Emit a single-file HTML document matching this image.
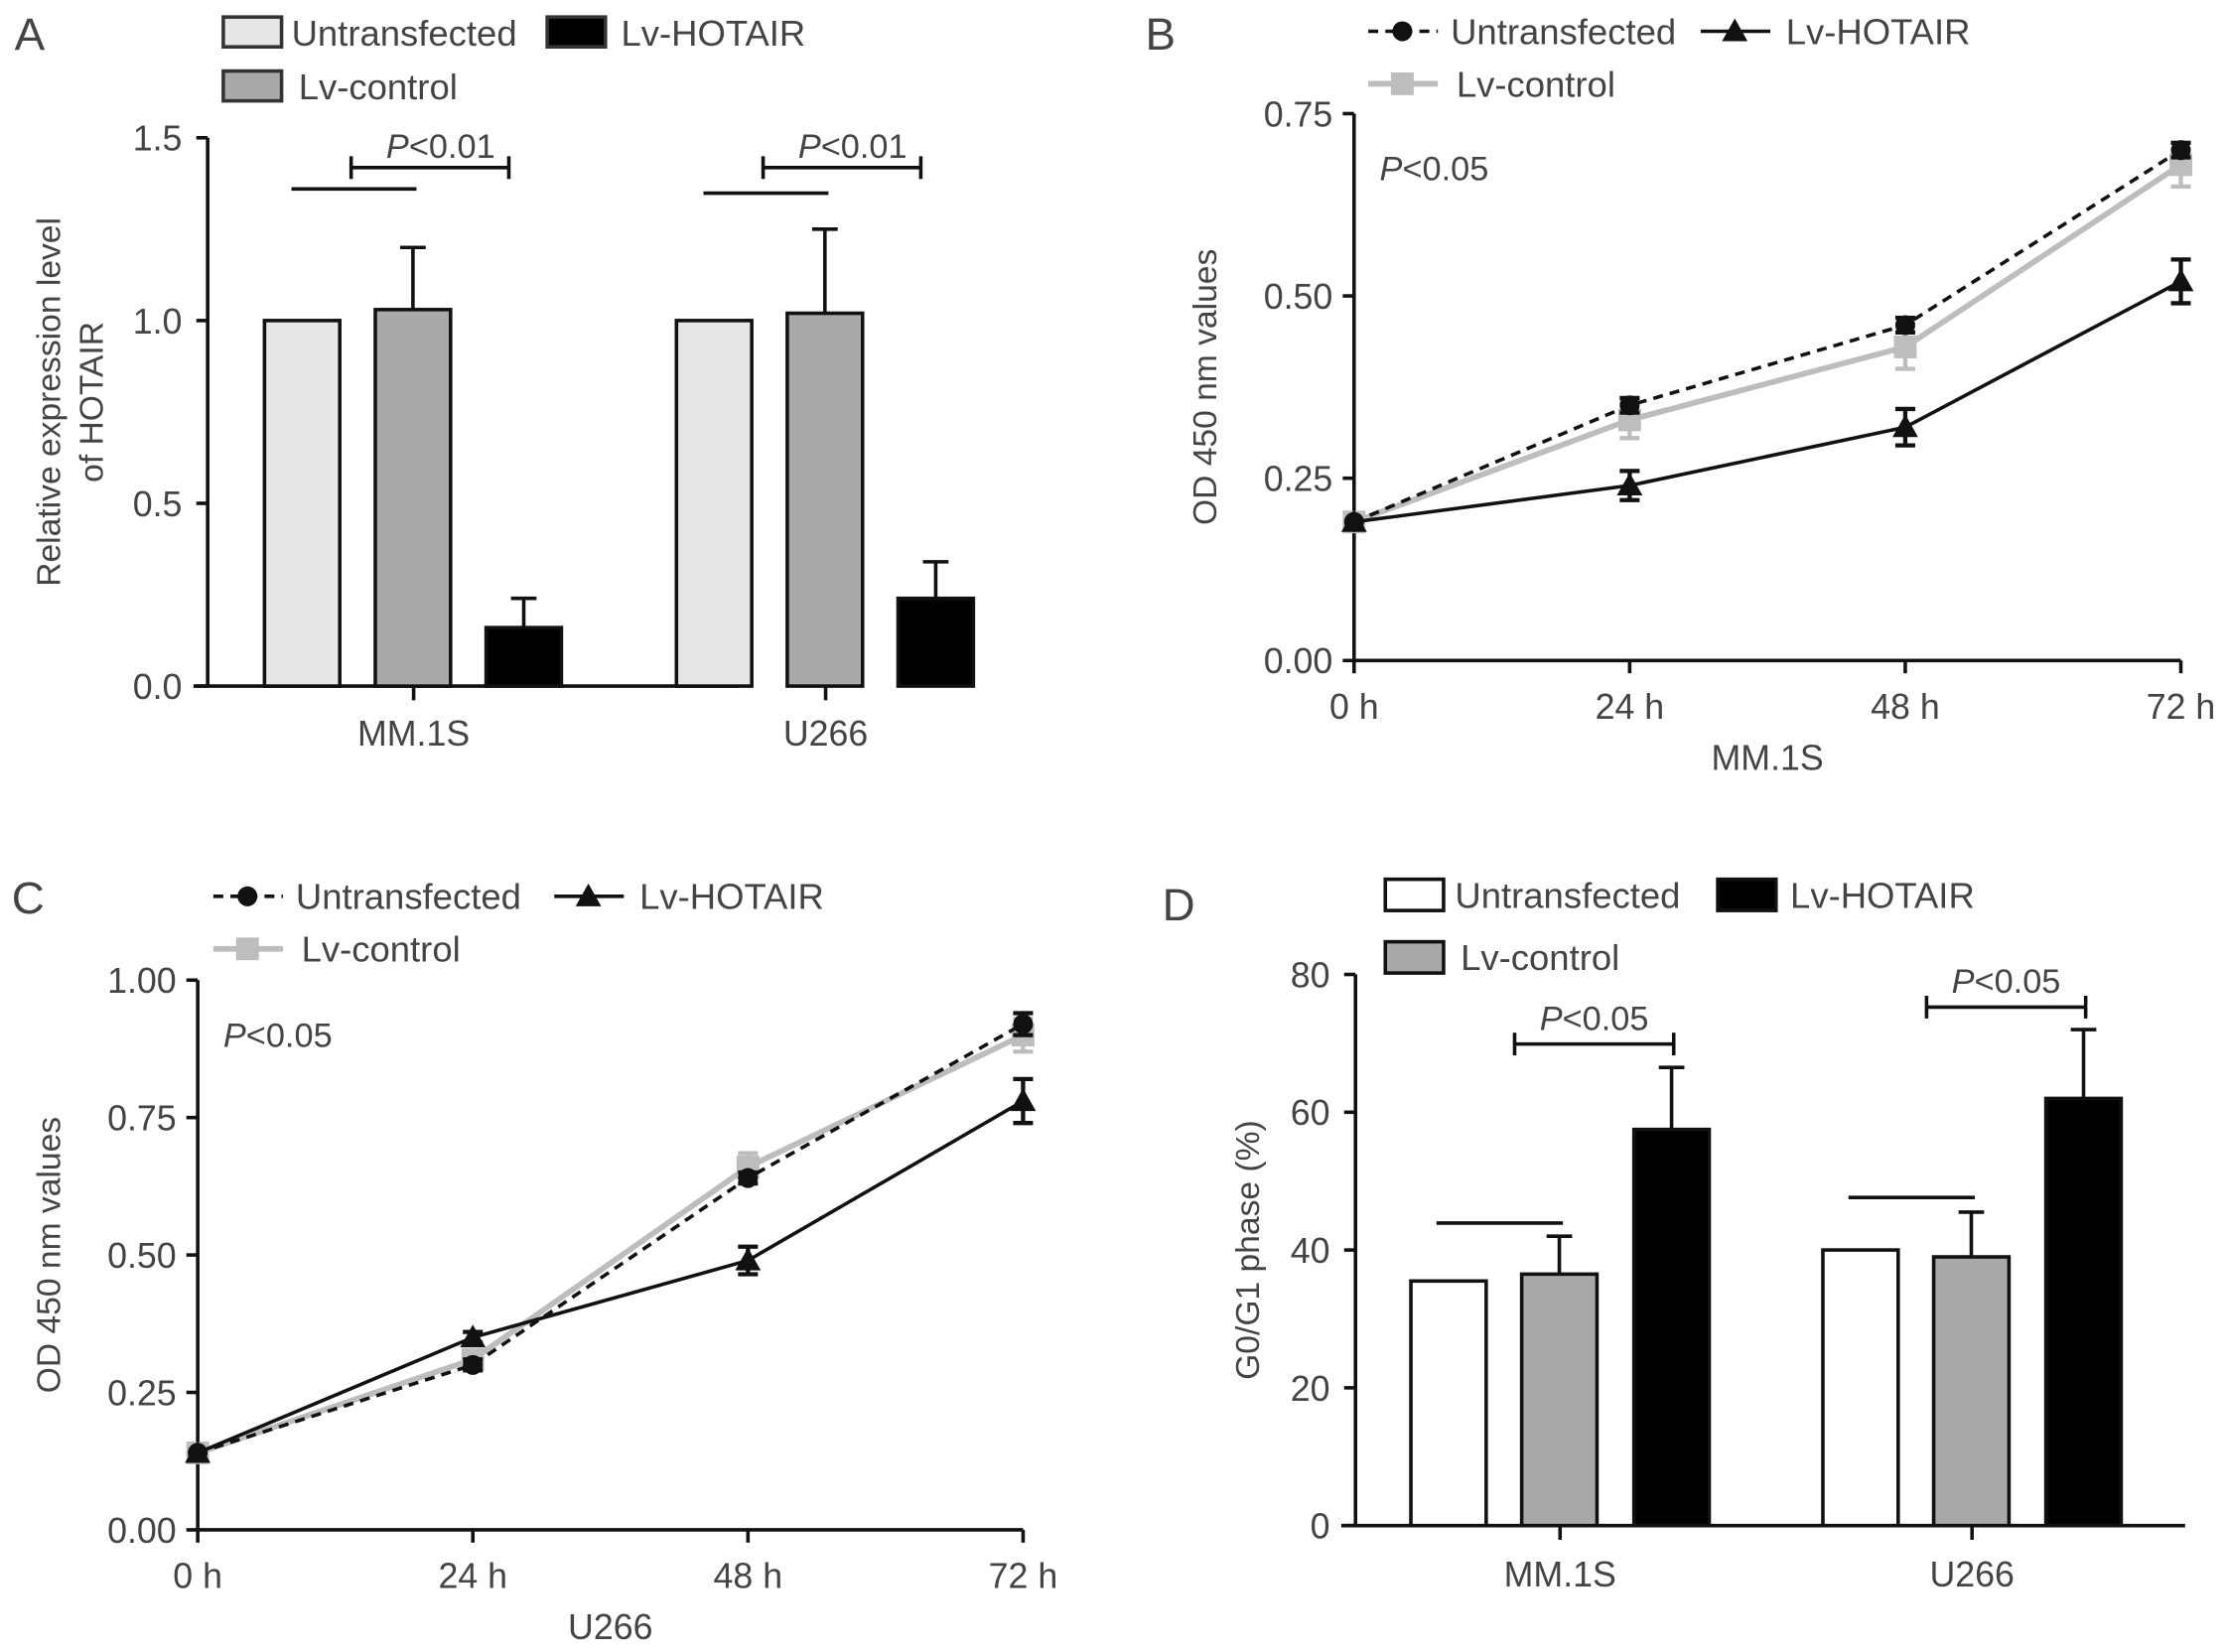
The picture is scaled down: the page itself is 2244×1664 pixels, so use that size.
<!DOCTYPE html>
<html><head><meta charset="utf-8"><style>
html,body{margin:0;padding:0;background:#fff}
svg{display:block}
text{font-family:"Liberation Sans",sans-serif;fill:#444}
</style></head><body>
<svg id="fig" width="2244" height="1664" viewBox="0 0 1568 1163" xmlns="http://www.w3.org/2000/svg"></svg>
<script>
// ---- Panel A data ----
const aGroups=["MM.1S","U266"];
const aUnt=[1.0,1.0];
const aCtrl=[1.03,1.02];
const aCtrlErr=[0.17,0.23];
const aHot=[0.16,0.24];
const aHotErr=[0.08,0.10];
const aTicks=[0,0.5,1.0,1.5];
// ---- Panel B data ----
const timeLabels=["0 h","24 h","48 h","72 h"];
const bUnt=[0.19,0.35,0.46,0.70];
const bUntErr=[0.01,0.01,0.01,0.01];
const bCtrl=[0.19,0.33,0.43,0.68];
const bCtrlErr=[0.02,0.025,0.03,0.03];
const bHot=[0.19,0.24,0.32,0.52];
const bHotErr=[0.02,0.02,0.025,0.03];
const bTicks=[0,0.25,0.5,0.75];
// ---- Panel C data ----
const cUnt=[0.14,0.30,0.64,0.92];
const cUntErr=[0.01,0.01,0.01,0.02];
const cCtrl=[0.14,0.31,0.66,0.90];
const cCtrlErr=[0.01,0.015,0.025,0.03];
const cHot=[0.14,0.35,0.49,0.78];
const cHotErr=[0.01,0.01,0.025,0.04];
const cTicks=[0,0.25,0.5,0.75,1.0];
// ---- Panel D data ----
const dGroups=["MM.1S","U266"];
const dUnt=[35.5,40];
const dCtrl=[36.5,39];
const dCtrlErr=[5.5,6.5];
const dHot=[57.5,62];
const dHotErr=[9,10];
const dTicks=[0,20,40,60,80];

const TICK=25, LEG=25.5, TITLE=23.5, PV=24, LET=32;
const svg=document.getElementById('fig');
const NS="http://www.w3.org/2000/svg";
function mk(tag,attrs,parent){const e=document.createElementNS(NS,tag);for(const k in attrs)e.setAttribute(k,attrs[k]);(parent||svg).appendChild(e);return e;}
function txt(x,y,s,size,anchor,parent,italicP){const t=mk('text',{x:x,y:y,'font-size':size,'text-anchor':anchor||'start'},parent);
 if(italicP){const a=document.createElementNS(NS,'tspan');a.setAttribute('font-style','italic');a.textContent='P';t.appendChild(a);t.appendChild(document.createTextNode(s));}
 else t.textContent=s;return t;}
function line(x1,y1,x2,y2,parent,extra){return mk('line',Object.assign({x1:x1,y1:y1,x2:x2,y2:y2,stroke:'#111','stroke-width':2.5},extra||{}),parent);}
function errBar(x,y1,y2,parent,color,w){line(x,y1,x,y2,parent,{stroke:color||'#111'});line(x-(w||9),y2,x+(w||9),y2,parent,{stroke:color||'#111'});}
function bracket(x1,x2,y,parent){line(x1,y,x2,y,parent);line(x1,y-8,x1,y+8,parent);line(x2,y-8,x2,y+8,parent);}

// ================= Panel A =================
(function(){
 const g=mk('g',{});
 
 
 const y0=483,y1=97,vmax=1.5;const Y=v=>y0-(v/vmax)*(y0-y1);
 const t=txt(10,35,"A",LET,'start',g);
 line(146,y1,146,y0,g);line(136,y0,520,y0,g);
 aTicks.forEach(v=>{line(138,Y(v),146,Y(v),g);const l=txt(128,Y(v)+9,v.toFixed(1),TICK,'end',g);});
 const yl=mk('text',{transform:'translate(42,283) rotate(-90)','font-size':TITLE,'text-anchor':'middle'},g);yl.textContent="Relative expression level";
 
 const yl2=mk('text',{transform:'translate(72,283) rotate(-90)','font-size':TITLE,'text-anchor':'middle'},g);yl2.textContent="of HOTAIR";
 
 const centers=[291,581];const bw=53;
 aGroups.forEach((name,i)=>{
  const c=centers[i];
  line(c,y0,c,y0+10,g);
  const l=txt(c,y0+42,name,TICK,'middle',g);
  const xs=[c-105,c-27,c+51];
  const vals=[aUnt[i],aCtrl[i],aHot[i]],fills=['#e6e6e6','#a9a9a9','#000'];
  vals.forEach((v,j)=>{const r=mk('rect',{x:xs[j],y:Y(v),width:bw,height:y0-Y(v),fill:fills[j],stroke:'#111','stroke-width':2.5},g);
   });
  errBar(xs[1]+bw/2,Y(aCtrl[i]),Y(aCtrl[i]+aCtrlErr[i]),g);
  errBar(xs[2]+bw/2,Y(aHot[i]),Y(aHot[i]+aHotErr[i]),g);
  line(c-86,133+(i*3),c+2,133+(i*3),g);
  bracket(c-44,c+67,118,g);
  const p=txt(c+19,111,"<0.01",PV,'middle',g,true);
 });
 const lg=[[157,12,'#e6e6e6','Untransfected',205],[385,12,'#000','Lv-HOTAIR',437],[157,50,'#a9a9a9','Lv-control',210]];
 lg.forEach(d=>{const r=mk('rect',{x:d[0],y:d[1],width:41,height:21,fill:d[2],stroke:'#333','stroke-width':2.5},g);
  
  const l=txt(d[4],d[1]+20,d[3],LEG,'start',g);});
})();

// ============ Line panels (B, C) ============
function linePanel(opt){
 const g=mk('g',{});
 
 
 const Y=v=>opt.y0-(v/opt.vmax)*(opt.y0-opt.y1);
 const X=i=>opt.x0+i*(opt.x1-opt.x0)/3;
 const t=txt(opt.letter[0],opt.letter[1],opt.letter[2],LET,'start',g);
 line(opt.x0,opt.y1,opt.x0,opt.y0,g);line(opt.x0,opt.y0,opt.x1,opt.y0,g);
 opt.ticks.forEach(v=>{line(opt.x0-8,Y(v),opt.x0,Y(v),g);const l=txt(opt.x0-15,Y(v)+9,v.toFixed(2),TICK,'end',g);});
 timeLabels.forEach((s,i)=>{line(X(i),opt.y0,X(i),opt.y0+9,g);const l=txt(X(i),opt.y0+41,s,TICK,'middle',g);});
 const xt=txt((opt.x0+opt.x1)/2,opt.y0+77,opt.xtitle,TICK,'middle',g);
 const yl=mk('text',{transform:`translate(${opt.ylx},${(opt.y0+opt.y1)/2}) rotate(-90)`,'font-size':TITLE,'text-anchor':'middle'},g);yl.textContent="OD 450 nm values";
 
 const p=txt(opt.x0+18,opt.y1+47,"<0.05",PV,'start',g,true);
 const series=[
  {v:opt.ctrl,e:opt.ctrlErr,color:'#bdbdbd',dash:null,mark:'sq',name:'lv-control'},
  {v:opt.unt,e:opt.untErr,color:'#111',dash:'7,5',mark:'ci',name:'untransfected'},
  {v:opt.hot,e:opt.hotErr,color:'#111',dash:null,mark:'tr',name:'lv-hotair'}];
 function marker(m,x,y,color,parent){
  if(m==='sq')return mk('rect',{x:x-8,y:y-8,width:16,height:16,fill:color},parent);
  if(m==='ci')return mk('circle',{cx:x,cy:y,r:7,fill:color},parent);
  return mk('polygon',{points:`${x},${y-9} ${x+9},${y+7} ${x-9},${y+7}`,fill:color},parent);}
 series.forEach(s=>{
  const sg=mk('g',{},g);
  
  
  const pts=s.v.map((v,i)=>X(i)+','+Y(v)).join(' ');
  const pl=mk('polyline',{points:pts,fill:'none',stroke:s.color,'stroke-width':s.mark==='sq'?4:2.5},sg);
  if(s.dash)pl.setAttribute('stroke-dasharray',s.dash);
  s.v.forEach((v,i)=>{
   if(i>0){line(X(i),Y(v-s.e[i]),X(i),Y(v+s.e[i]),sg,{stroke:s.color,'stroke-width':3});
    line(X(i)-7,Y(v+s.e[i]),X(i)+7,Y(v+s.e[i]),sg,{stroke:s.color,'stroke-width':3});
    line(X(i)-7,Y(v-s.e[i]),X(i)+7,Y(v-s.e[i]),sg,{stroke:s.color,'stroke-width':3});}
   const mm=marker(s.mark,X(i),Y(v),s.color,sg);});
 });
 const L=opt.leg;
 const items=[[L[0],L[1],'#111','7,5','ci','Untransfected',L[0]+58],[L[2],L[1],'#111',null,'tr','Lv-HOTAIR',L[2]+60],[L[0],L[1]+37,'#bdbdbd',null,'sq','Lv-control',L[0]+62]];
 items.forEach(d=>{const lg=mk('g',{},g);
  const l=line(d[0],d[1],d[0]+49,d[1],lg,{stroke:d[2],'stroke-width':d[4]==='sq'?4:2.5});if(d[3])l.setAttribute('stroke-dasharray',d[3]);
  marker(d[4],d[0]+24,d[1],d[2],lg);txt(d[6],d[1]+9,d[5],LEG,'start',lg);});
}
linePanel({name:'panel-b',letter:[806,35,'B'],x0:953,x1:1535,y0:465,y1:80,vmax:0.75,ticks:bTicks,xtitle:'MM.1S',ylx:856,
 unt:bUnt,untErr:bUntErr,ctrl:bCtrl,ctrlErr:bCtrlErr,hot:bHot,hotErr:bHotErr,leg:[963,22,1197]});
linePanel({name:'panel-c',letter:[8,643,'C'],x0:139,x1:720,y0:1077,y1:690,vmax:1.0,ticks:cTicks,xtitle:'U266',ylx:42,
 unt:cUnt,untErr:cUntErr,ctrl:cCtrl,ctrlErr:cCtrlErr,hot:cHot,hotErr:cHotErr,leg:[150,631,390]});

// ================= Panel D =================
(function(){
 const g=mk('g',{});
 
 
 const y0=1074,y1=686,vmax=80;const Y=v=>y0-(v/vmax)*(y0-y1);
 const t=txt(818,648,"D",LET,'start',g);
 line(954,y1,954,y0,g);line(944,y0,1538,y0,g);
 dTicks.forEach(v=>{line(946,Y(v),954,Y(v),g);const l=txt(936,Y(v)+9,String(v),TICK,'end',g);});
 const yl=mk('text',{transform:'translate(886,880) rotate(-90)','font-size':TITLE,'text-anchor':'middle'},g);yl.textContent="G0/G1 phase (%)";
 
 const centers=[1098,1388];const bw=53;
 dGroups.forEach((name,i)=>{
  const c=centers[i];
  line(c,y0,c,y0+10,g);
  const l=txt(c,y0+43,name,TICK,'middle',g);
  const xs=[c-105,c-27,c+52];
  const vals=[dUnt[i],dCtrl[i],dHot[i]],fills=['#fff','#a9a9a9','#000'];
  vals.forEach((v,j)=>{const r=mk('rect',{x:xs[j],y:Y(v),width:bw,height:y0-Y(v),fill:fills[j],stroke:'#111','stroke-width':2.5},g);
   });
  errBar(xs[1]+bw/2,Y(dCtrl[i]),Y(dCtrl[i]+dCtrlErr[i]),g);
  errBar(xs[2]+bw/2,Y(dHot[i]),Y(dHot[i]+dHotErr[i]),g);
  const ly=[861,843][i];line(c-87,ly,c+2,ly,g);
  const by=[735,709][i];bracket(c-32,c+80,by,g);
  const p=txt(c+24,by-10,"<0.05",PV,'middle',g,true);
 });
 const lg=[[975,619,'#fff','Untransfected',1024],[1209,619,'#000','Lv-HOTAIR',1260],[975,663,'#a9a9a9','Lv-control',1028]];
 lg.forEach(d=>{const r=mk('rect',{x:d[0],y:d[1],width:41,height:22,fill:d[2],stroke:'#111','stroke-width':2.5},g);
  
  const l=txt(d[4],d[1]+20,d[3],LEG,'start',g);});
})();
</script>
</body></html>
